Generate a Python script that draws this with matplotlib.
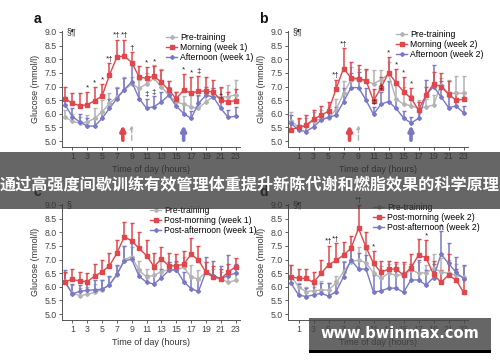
import numpy as np
import matplotlib
matplotlib.use('Agg')
import matplotlib.pyplot as plt
from matplotlib.patches import Rectangle

# ── Theme ─────────────────────────────────────────────────────────────────────
RED   = '#e0474c'
GREY  = '#b3b3b3'
BLUE  = '#7878c6'
TXT   = '#333333'

plt.rcParams['font.family'] = ['Liberation Sans', 'DejaVu Sans']

# ── Data ──────────────────────────────────────────────────────────────────────
hours = np.arange(24)
xtick_hours = list(range(1, 24, 2))

# panel a
a_pre      = [5.87, 5.73, 5.65, 5.70, 5.83, 6.07, 6.38, 6.62, 6.87, 7.10, 6.93, 7.10,
              7.30, 6.98, 6.68, 6.44, 6.35, 6.25, 6.20, 6.44, 6.62, 6.62, 6.62, 6.70]
a_pre_up   = [6.15, 6.00, 5.90, 5.95, 6.20, 6.50, 6.75, 7.00, 7.35, 7.35, 7.25, 7.50,
              7.80, 7.65, 7.20, 6.80, 6.65, 6.70, 6.65, 6.80, 6.95, 6.95, 7.05, 7.25]
a_morn     = [6.56, 6.38, 6.30, 6.33, 6.48, 6.65, 7.42, 8.08, 8.12, 7.88, 7.35, 7.30,
              7.38, 7.15, 6.87, 6.55, 6.87, 6.76, 6.83, 6.83, 6.80, 6.50, 6.45, 6.48]
a_morn_up  = [7.00, 6.78, 6.78, 6.80, 6.98, 7.10, 7.85, 8.72, 8.72, 8.25, 7.75, 7.70,
              7.75, 7.60, 7.20, 6.80, 7.45, 7.35, 7.40, 7.35, 7.25, 7.00, 6.80, 6.90]
a_aft      = [6.34, 5.89, 5.70, 5.55, 5.55, 5.83, 6.20, 6.56, 6.89, 7.17, 6.56, 6.20,
              6.26, 6.44, 6.68, 6.28, 6.01, 5.83, 6.38, 6.68, 6.62, 6.20, 5.87, 5.91]
a_aft_up   = [6.60, 6.20, 6.00, 5.85, 5.80, 6.10, 6.55, 6.95, 7.30, 7.80, 6.90, 6.55,
              6.65, 6.80, 7.00, 6.60, 6.35, 6.10, 6.70, 7.00, 6.95, 6.50, 6.15, 6.25]

# panel b
b_pre      = [5.75, 5.50, 5.55, 5.75, 5.80, 5.85, 6.15, 6.75, 7.25, 7.25, 7.20, 7.10,
              7.25, 7.45, 6.55, 6.35, 6.30, 6.20, 6.25, 6.32, 7.05, 6.75, 6.75, 6.75]
b_pre_up   = [6.05, 5.80, 5.85, 6.05, 6.15, 6.25, 6.55, 7.20, 7.70, 7.65, 7.60, 7.60,
              7.60, 7.90, 7.05, 7.00, 6.70, 6.50, 6.55, 6.70, 7.30, 7.25, 7.40, 7.40]
b_morn     = [5.42, 5.50, 5.58, 5.80, 5.94, 6.10, 6.91, 7.66, 7.32, 7.29, 7.22, 6.48,
              6.95, 7.51, 7.14, 6.81, 6.57, 6.14, 6.68, 7.10, 7.00, 6.72, 6.50, 6.53]
b_morn_up  = [5.75, 5.85, 5.95, 6.15, 6.30, 6.45, 7.25, 8.40, 7.90, 7.80, 7.65, 6.90,
              7.35, 8.10, 7.65, 7.35, 6.95, 6.45, 7.00, 7.55, 7.50, 7.20, 6.80, 6.80]
b_aft      = [5.65, 5.40, 5.35, 5.52, 5.77, 5.87, 5.95, 6.44, 6.96, 6.96, 6.50, 5.98,
              6.35, 6.45, 6.20, 5.85, 5.66, 5.83, 6.68, 7.00, 6.62, 6.23, 6.28, 6.04]
b_aft_up   = [5.95, 5.60, 5.55, 5.75, 6.00, 6.10, 6.25, 6.95, 7.50, 7.55, 6.95, 6.25,
              6.80, 7.20, 6.55, 6.10, 5.90, 6.05, 7.25, 7.80, 7.20, 6.60, 6.55, 6.30]

# panel c
c_pre      = [6.20, 5.76, 5.68, 5.72, 5.80, 5.89, 6.07, 6.44, 7.00, 7.10, 6.60, 6.36,
              6.42, 6.56, 6.63, 6.60, 6.72, 6.36, 6.28, 6.53, 6.40, 6.30, 6.16, 6.24]
c_pre_up   = [6.50, 6.05, 5.95, 6.00, 6.10, 6.25, 6.35, 6.75, 7.50, 7.45, 6.95, 6.65,
              6.75, 6.95, 6.90, 6.90, 7.10, 6.80, 6.60, 6.90, 6.65, 6.55, 6.45, 6.55]
c_morn     = [6.19, 6.27, 6.21, 6.19, 6.39, 6.55, 6.77, 7.23, 7.84, 7.68, 7.41, 7.14,
              6.74, 7.02, 6.77, 6.77, 6.82, 7.19, 6.98, 6.53, 6.35, 6.30, 6.53, 6.74]
c_morn_up  = [6.55, 6.65, 6.55, 6.50, 6.85, 7.00, 7.25, 7.70, 8.38, 8.35, 8.00, 7.70,
              7.25, 7.45, 7.25, 7.20, 7.30, 7.78, 7.50, 6.90, 6.75, 6.65, 6.85, 7.05]
c_aft      = [6.17, 5.74, 5.83, 5.87, 5.89, 5.91, 6.07, 6.46, 6.95, 7.01, 6.38, 6.17,
              6.10, 6.33, 6.60, 6.63, 6.19, 5.93, 5.83, 6.56, 6.41, 6.30, 6.41, 6.50]
c_aft_up   = [6.60, 6.10, 6.05, 6.10, 6.25, 6.25, 6.40, 6.80, 7.50, 7.60, 6.65, 6.45,
              6.45, 6.65, 6.90, 6.95, 6.55, 6.40, 6.25, 7.10, 6.95, 6.75, 7.15, 6.85]

# panel d
d_pre      = [6.40, 6.00, 5.82, 5.86, 5.88, 5.88, 6.13, 6.55, 6.92, 6.98, 6.88, 6.51,
              6.31, 6.49, 6.43, 6.43, 6.61, 6.51, 6.51, 6.68, 6.55, 6.49, 6.43, 6.35]
d_pre_up   = [6.80, 6.15, 6.00, 6.00, 6.20, 6.15, 6.40, 6.95, 7.45, 7.45, 7.40, 6.85,
              6.75, 6.85, 6.85, 6.85, 6.85, 6.90, 6.80, 7.20, 7.05, 7.00, 6.85, 6.75]
d_morn     = [6.37, 6.31, 6.31, 6.16, 6.49, 6.80, 6.97, 7.16, 7.41, 8.14, 7.45, 6.86,
              6.53, 6.65, 6.65, 6.43, 6.70, 7.16, 7.07, 6.46, 6.16, 6.43, 6.25, 5.80]
d_morn_up  = [6.80, 6.65, 6.65, 6.55, 7.00, 7.50, 7.60, 7.65, 7.85, 9.00, 8.00, 7.30,
              6.95, 6.95, 6.90, 6.90, 7.20, 7.75, 7.70, 6.95, 6.60, 7.20, 6.65, 6.30]
d_aft      = [6.13, 5.70, 5.64, 5.70, 5.76, 5.66, 5.82, 6.37, 6.98, 6.65, 6.65, 5.80,
              5.85, 5.95, 5.95, 5.80, 6.25, 6.25, 6.06, 6.34, 7.19, 6.86, 6.53, 6.30]
d_aft_up   = [6.40, 6.10, 5.95, 6.10, 6.15, 6.15, 6.20, 6.90, 7.50, 7.25, 7.15, 6.45,
              6.60, 6.60, 6.60, 6.55, 6.85, 7.00, 6.60, 6.85, 8.05, 7.60, 7.10, 6.80]

yticks = [5.0, 5.5, 6.0, 6.5, 7.0, 7.5, 8.0, 8.5, 9.0]

labels_a = ['Pre-training', 'Morning (week 1)', 'Afternoon (week 1)']
labels_b = ['Pre-training', 'Morning (week 2)', 'Afternoon (week 2)']
labels_c = ['Pre-training', 'Post-morning (week 1)', 'Post-afternoon (week 1)']
labels_d = ['Pre-training', 'Post-morning (week 2)', 'Post-afternoon (week 2)']

# significance marks: (series, hour, text)
marks_a = [('r', 3, '*'), ('r', 4, '*'), ('r', 5, '*'), ('r', 6, '*†'), ('r', 7, '*†'),
           ('r', 8, '*†'), ('r', 9, '†'), ('r', 11, '*'), ('r', 12, '*'),
           ('b', 11, '‡'), ('b', 12, '‡'), ('r', 16, '*'), ('r', 17, '*'),
           ('r', 18, '‡'), ('b', 21, '‡')]
marks_b = [('r', 6, '*†'), ('r', 7, '*†'), ('r', 13, '*'), ('r', 14, '*'), ('r', 15, '*'),
           ('r', 16, '*'), ('b', 11, '‡'), ('b', 12, '‡')]
marks_c = []
marks_d = [('r', 5, '*†'), ('r', 6, '*†'), ('r', 9, '*†'), ('r', 11, '*'), ('r', 18, '*'),
           ('b', 20, '*')]

# exercise arrows (hour, colour key)
arrows_top = [(7.8, 'r'), (9.0, 'g'), (16.0, 'b')]

BANNER = '通过高强度间歇训练有效管理体重提升新陈代谢和燃脂效果的科学原理'
WATERMARK = 'www.bwinmax.com'

W, H = 500, 362
COLORS = {'r': RED, 'g': GREY, 'b': BLUE}


def px_box(left, right, top, bottom):
    return [left / W, 1 - bottom / H, (right - left) / W, (bottom - top) / H]


def draw_panel(ax, letter, pre, pre_up, morn, morn_up, aft, aft_up, labels,
               marks, sect, leg_xy, arrows):
    series = [(pre, pre_up, GREY, 'D', 2.0), (aft, aft_up, BLUE, 'D', 2.0),
              (morn, morn_up, RED, 's', 2.6)]
    for vals, up, col, mk, ms in series:
        vals = np.array(vals)
        err = np.array(up) - vals
        ax.errorbar(hours, vals, yerr=[np.zeros_like(err), err], color=col,
                    lw=1.0, marker=mk, ms=ms, elinewidth=1.1, capsize=1.6,
                    capthick=1.0)
    handles = [ax.lines[0], ax.lines[3], ax.lines[6]]
    ax.legend([handles[0], handles[2], handles[1]], labels, loc='upper left',
              bbox_to_anchor=(leg_xy[0] / W, 1 - leg_xy[1] / H),
              bbox_transform=ax.figure.transFigure, frameon=False,
              fontsize=6.2, handlelength=1.3, handletextpad=0.3,
              labelspacing=0.1, borderpad=0, borderaxespad=0)

    lookup = {'r': morn_up, 'b': aft_up}
    for key, h, t in marks:
        ax.text(h, lookup[key][h] + 0.02, t, ha='center', va='bottom',
                fontsize=5.8, color='#222222')

    for hx, key in arrows:
        ls = '--' if key == 'g' else '-'
        lw = 1.0 if key == 'g' else 2.6
        ax.annotate('', xy=(hx, 5.58), xytext=(hx, 5.03),
                    arrowprops=dict(arrowstyle='-|>', color=COLORS[key], lw=lw,
                                    ls=ls, mutation_scale=7 if key != 'g' else 5,
                                    shrinkA=0, shrinkB=0))

    ax.text(0.2, 9.0, sect, fontsize=6.3, color='#222222', va='center')

    ax.set_xlim(-0.4, 23.6)
    ax.set_ylim(4.8, 9.05)
    ax.set_yticks(yticks)
    ax.set_yticklabels([f'{v:.1f}' for v in yticks])
    ax.set_xticks(xtick_hours)
    ax.set_xticks(hours, minor=True)
    ax.tick_params(labelsize=6.3, colors='#444444', length=2, width=0.6, pad=2)
    ax.tick_params(which='minor', length=0)
    for s in ('top', 'right'):
        ax.spines[s].set_visible(False)
    for s in ('left', 'bottom'):
        ax.spines[s].set_linewidth(0.7)
        ax.spines[s].set_color('#555555')
    ax.set_ylabel('Glucose (mmol/l)', fontsize=6.5, color=TXT, labelpad=3)
    ax.set_xlabel('Time of day (hours)', fontsize=6.5, color=TXT, labelpad=3)
    ax.text(-0.16, 1.04, letter, transform=ax.transAxes, fontsize=10,
            fontweight='bold', color='#111111', va='bottom')


fig = plt.figure(figsize=(W / 100, H / 100), dpi=100)

ax_a = fig.add_axes(px_box(62, 240, 30.6, 146.5))
ax_b = fig.add_axes(px_box(288, 468, 30.6, 146.5))
ax_c = fig.add_axes(px_box(62, 240, 203.6, 319.5))
ax_d = fig.add_axes(px_box(288, 468, 203.6, 319.5))

draw_panel(ax_a, 'a', a_pre, a_pre_up, a_morn, a_morn_up, a_aft, a_aft_up,
           labels_a, marks_a, '§¶', (166, 33), arrows_top)
draw_panel(ax_b, 'b', b_pre, b_pre_up, b_morn, b_morn_up, b_aft, b_aft_up,
           labels_b, marks_b, '§¶', (396, 30), arrows_top)
draw_panel(ax_c, 'c', c_pre, c_pre_up, c_morn, c_morn_up, c_aft, c_aft_up,
           labels_c, marks_c, '§', (150, 206), [])
draw_panel(ax_d, 'd', d_pre, d_pre_up, d_morn, d_morn_up, d_aft, d_aft_up,
           labels_d, marks_d, '§¶', (373, 203), [])

# ── Overlays: banner and watermark ────────────────────────────────────────────
fig.patches.append(Rectangle((0, 1 - 209 / H), 1, 57 / H, transform=fig.transFigure,
                             facecolor='#333333', alpha=0.75, zorder=10))
fig.text(0.5, 1 - 184 / H, BANNER, ha='center', va='center', color='white',
         fontsize=11.6, fontweight='bold', family=['Noto Sans CJK SC'], zorder=11)

fig.patches.append(Rectangle((309 / W, 1 - 350 / H), 182 / W, 32 / H,
                             transform=fig.transFigure, facecolor='#444444',
                             alpha=0.82, zorder=10))
fig.patches.append(Rectangle((309 / W, 1 - 353 / H), 182 / W, 3 / H,
                             transform=fig.transFigure, facecolor='black', zorder=10))
fig.text(400 / W, 1 - 334 / H, WATERMARK, ha='center', va='center', color='white',
         fontsize=10.5, fontweight='bold', family=['DejaVu Sans'], zorder=11)

fig.savefig('out.png', dpi=100)
